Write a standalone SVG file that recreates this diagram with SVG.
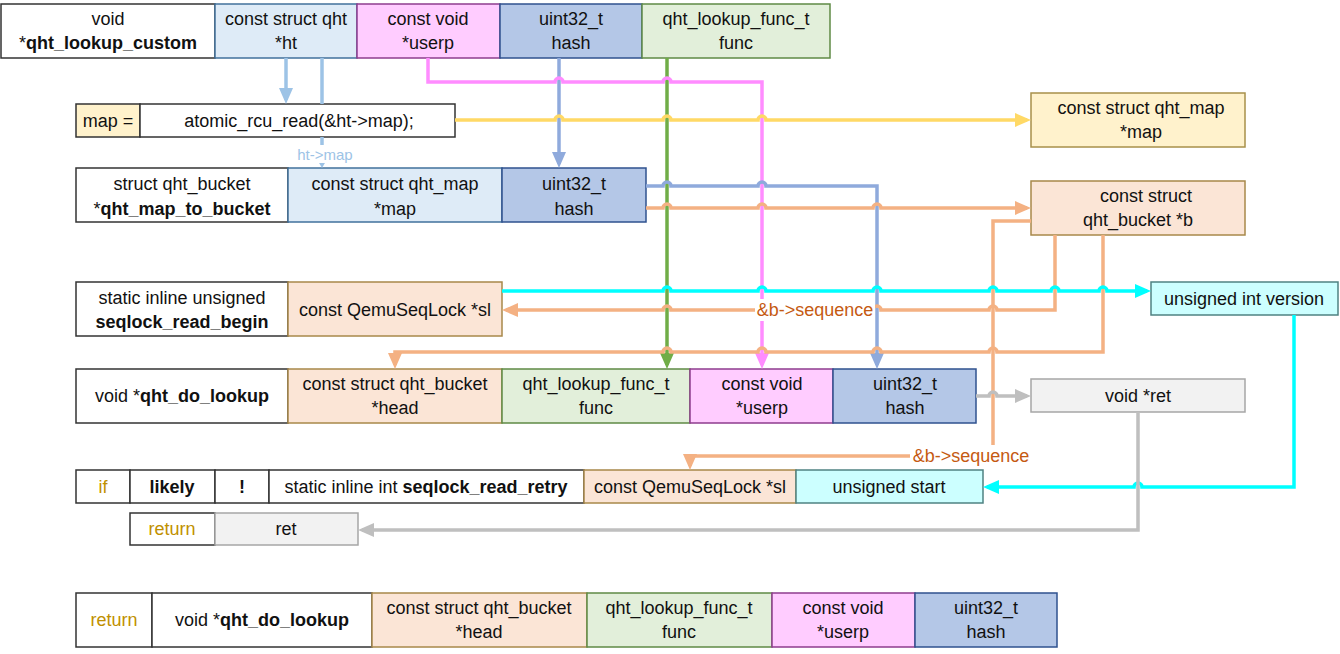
<svg xmlns="http://www.w3.org/2000/svg" width="1340" height="654" viewBox="0 0 1340 654">
<style>
text{font-family:"Liberation Sans",Arial,sans-serif;font-size:18px;fill:#111;text-anchor:middle}
.b{font-weight:bold}
.kw{fill:#BF9000}
.seq{fill:#C55A11}
.hm{fill:#9DC3E6}
rect{stroke-width:1.5}
.w{fill:#fff;stroke:#333}
.lb{fill:#DEEBF7;stroke:#41719C}
.pk{fill:#FFCCFF;stroke:#8E3C8E}
.bl{fill:#B4C7E7;stroke:#2F528F}
.gr{fill:#E2EFDA;stroke:#5F8A45}
.ye{fill:#FFF2CC;stroke:#A8904A}
.pe{fill:#FBE5D6;stroke:#A8884A}
.cy{fill:#CCFFFF;stroke:#4F8282}
.gy{fill:#F2F2F2;stroke:#A6A6A6}
.ln{fill:none;stroke-width:3.5}
</style>
<defs>
<marker id="a-lb" markerUnits="userSpaceOnUse" markerWidth="16" markerHeight="14" refX="12" refY="7" orient="auto"><path d="M0,0L16,7L0,14z" fill="#9DC3E6"/></marker>
<marker id="a-pk" markerUnits="userSpaceOnUse" markerWidth="16" markerHeight="14" refX="12" refY="7" orient="auto"><path d="M0,0L16,7L0,14z" fill="#FF8CFF"/></marker>
<marker id="a-bl" markerUnits="userSpaceOnUse" markerWidth="16" markerHeight="14" refX="12" refY="7" orient="auto"><path d="M0,0L16,7L0,14z" fill="#8FAADC"/></marker>
<marker id="a-gr" markerUnits="userSpaceOnUse" markerWidth="16" markerHeight="14" refX="12" refY="7" orient="auto"><path d="M0,0L16,7L0,14z" fill="#70AD47"/></marker>
<marker id="a-ye" markerUnits="userSpaceOnUse" markerWidth="16" markerHeight="14" refX="12" refY="7" orient="auto"><path d="M0,0L16,7L0,14z" fill="#FFD966"/></marker>
<marker id="a-or" markerUnits="userSpaceOnUse" markerWidth="16" markerHeight="14" refX="12" refY="7" orient="auto"><path d="M0,0L16,7L0,14z" fill="#F4B183"/></marker>
<marker id="a-cy" markerUnits="userSpaceOnUse" markerWidth="16" markerHeight="14" refX="12" refY="7" orient="auto"><path d="M0,0L16,7L0,14z" fill="#00FFFF"/></marker>
<marker id="a-gy" markerUnits="userSpaceOnUse" markerWidth="16" markerHeight="14" refX="12" refY="7" orient="auto"><path d="M0,0L16,7L0,14z" fill="#BFBFBF"/></marker>
</defs>
<rect width="1340" height="654" fill="#fff"/>

<!-- Row 1 -->
<g id="n-qht_lookup_custom"><rect class="w" x="1" y="4" width="214" height="54"/><text x="108" y="25">void</text><text x="108" y="49">*<tspan class="b">qht_lookup_custom</tspan></text></g>
<g id="n-ht"><rect class="lb" x="215" y="4" width="142" height="54"/><text x="286" y="25">const struct qht</text><text x="286" y="49">*ht</text></g>
<g id="n-userp1"><rect class="pk" x="357" y="4" width="143" height="54"/><text x="428" y="25">const void</text><text x="428" y="49">*userp</text></g>
<g id="n-hash1"><rect class="bl" x="500" y="4" width="142" height="54"/><text x="571" y="25">uint32_t</text><text x="571" y="49">hash</text></g>
<g id="n-func1"><rect class="gr" x="642" y="4" width="188" height="54"/><text x="736" y="25">qht_lookup_func_t</text><text x="736" y="49">func</text></g>

<!-- Row 2 -->
<g id="n-mapeq"><rect class="ye" x="76" y="104" width="64" height="33" style="stroke:#333"/><text x="108" y="127">map =</text></g>
<g id="n-atomic"><rect class="w" x="140" y="104" width="315" height="33"/><text x="299" y="127">atomic_rcu_read(&amp;ht-&gt;map);</text></g>
<g id="n-map-var"><rect class="ye" x="1031" y="93" width="214" height="54"/><text x="1141" y="114">const struct qht_map</text><text x="1141" y="138">*map</text></g>

<!-- Row 3 -->
<g id="n-map_to_bucket"><rect class="w" x="76" y="168" width="212" height="54"/><text x="182" y="190">struct qht_bucket</text><text x="182" y="215">*<tspan class="b">qht_map_to_bucket</tspan></text></g>
<g id="n-map-arg"><rect class="lb" x="288" y="168" width="214" height="54"/><text x="395" y="190">const struct qht_map</text><text x="395" y="215">*map</text></g>
<g id="n-hash2"><rect class="bl" x="502" y="168" width="144" height="54"/><text x="574" y="190">uint32_t</text><text x="574" y="215">hash</text></g>
<g id="n-b"><rect class="pe" x="1031" y="181" width="214" height="54"/><text x="1146" y="202">const struct</text><text x="1138" y="226">qht_bucket *b</text></g>

<!-- Row 4 -->
<g id="n-read_begin"><rect class="w" x="76" y="282" width="212" height="54"/><text x="182" y="304">static inline unsigned</text><text x="182" y="328" class="b">seqlock_read_begin</text></g>
<g id="n-sl1"><rect class="pe" x="288" y="282" width="214" height="54"/><text x="395" y="316">const QemuSeqLock *sl</text></g>
<g id="n-version"><rect class="cy" x="1151" y="282" width="187" height="33"/><text x="1244" y="305">unsigned int version</text></g>

<!-- Row 5 -->
<g id="n-do_lookup1"><rect class="w" x="76" y="369" width="212" height="54"/><text x="182" y="402">void *<tspan class="b">qht_do_lookup</tspan></text></g>
<g id="n-head1"><rect class="pe" x="288" y="369" width="214" height="54"/><text x="395" y="390">const struct qht_bucket</text><text x="395" y="414">*head</text></g>
<g id="n-func2"><rect class="gr" x="502" y="369" width="188" height="54"/><text x="596" y="390">qht_lookup_func_t</text><text x="596" y="414">func</text></g>
<g id="n-userp2"><rect class="pk" x="690" y="369" width="143" height="54"/><text x="762" y="390">const void</text><text x="762" y="414">*userp</text></g>
<g id="n-hash3"><rect class="bl" x="833" y="369" width="143" height="54"/><text x="905" y="390">uint32_t</text><text x="905" y="414">hash</text></g>
<g id="n-ret-var"><rect class="gy" x="1031" y="379" width="214" height="33"/><text x="1138" y="402">void *ret</text></g>

<!-- Row 6 -->
<g id="n-if"><rect class="w" x="76" y="470" width="54" height="33"/><text x="103" y="493" class="kw">if</text></g>
<g id="n-likely"><rect class="w" x="130" y="470" width="85" height="33"/><text x="172" y="493" class="b">likely</text></g>
<g id="n-not"><rect class="w" x="215" y="470" width="54" height="33"/><text x="242" y="493" class="b">!</text></g>
<g id="n-read_retry"><rect class="w" x="269" y="470" width="315" height="33"/><text x="426" y="493">static inline int <tspan class="b">seqlock_read_retry</tspan></text></g>
<g id="n-sl2"><rect class="pe" x="584" y="470" width="212" height="33"/><text x="690" y="493">const QemuSeqLock *sl</text></g>
<g id="n-start"><rect class="cy" x="796" y="470" width="187" height="33"/><text x="889" y="493">unsigned start</text></g>

<!-- Row 7 -->
<g id="n-return1"><rect class="w" x="130" y="513" width="85" height="32"/><text x="172" y="535" class="kw">return</text></g>
<g id="n-ret"><rect class="gy" x="215" y="513" width="143" height="32"/><text x="286" y="535">ret</text></g>

<!-- Row 8 -->
<g id="n-return2"><rect class="w" x="76" y="593" width="76" height="54"/><text x="114" y="626" class="kw">return</text></g>
<g id="n-do_lookup2"><rect class="w" x="152" y="593" width="220" height="54"/><text x="262" y="626">void *<tspan class="b">qht_do_lookup</tspan></text></g>
<g id="n-head2"><rect class="pe" x="372" y="593" width="215" height="54"/><text x="479" y="614">const struct qht_bucket</text><text x="479" y="638">*head</text></g>
<g id="n-func3"><rect class="gr" x="587" y="593" width="185" height="54"/><text x="679" y="614">qht_lookup_func_t</text><text x="679" y="638">func</text></g>
<g id="n-userp3"><rect class="pk" x="772" y="593" width="143" height="54"/><text x="843" y="614">const void</text><text x="843" y="638">*userp</text></g>
<g id="n-hash4"><rect class="bl" x="915" y="593" width="142" height="54"/><text x="986" y="614">uint32_t</text><text x="986" y="638">hash</text></g>

<!-- Connectors -->
<g id="connectors">
<path class="ln" stroke="#9DC3E6" d="M286,58V100" marker-end="url(#a-lb)"/>
<path class="ln" stroke="#9DC3E6" d="M322,58V104M322,137V150"/>
<path d="M318.5,162L325.5,162L322,168z" fill="#9DC3E6"/>
<path class="ln" stroke="#8FAADC" d="M559,58V164" marker-end="url(#a-bl)"/>
<path class="ln" stroke="#70AD47" d="M667,58V365" marker-end="url(#a-gr)"/>
<path class="ln" stroke="#FF8CFF" d="M428,58V82H555a4,4 0 0 1 8,0H663a4,4 0 0 1 8,0H762V365" marker-end="url(#a-pk)"/>
<path class="ln" stroke="#FFD966" d="M455,120H555a4,4 0 0 1 8,0H663a4,4 0 0 1 8,0H758a4,4 0 0 1 8,0H1027" marker-end="url(#a-ye)"/>
<path class="ln" stroke="#8FAADC" d="M646,186H663a4,4 0 0 1 8,0H758a4,4 0 0 1 8,0H877V365" marker-end="url(#a-bl)"/>
<path class="ln" stroke="#F4B183" d="M646,208H663a4,4 0 0 1 8,0H758a4,4 0 0 1 8,0H873a4,4 0 0 1 8,0H1027" marker-end="url(#a-or)"/>
<path class="ln" stroke="#F4B183" d="M1031,221H993V456H690V466" marker-end="url(#a-or)"/>
<path class="ln" stroke="#F4B183" d="M1055,235V310H997a4,4 0 0 0 -8,0H881a4,4 0 0 0 -8,0H766a4,4 0 0 0 -8,0H671a4,4 0 0 0 -8,0H506" marker-end="url(#a-or)"/>
<path class="ln" stroke="#F4B183" d="M1103,235V352H997a4,4 0 0 0 -8,0H881a4,4 0 0 0 -8,0H766a4,4 0 0 0 -8,0H671a4,4 0 0 0 -8,0H395V365" marker-end="url(#a-or)"/>
<path class="ln" stroke="#00FFFF" d="M502,291H663a4,4 0 0 1 8,0H758a4,4 0 0 1 8,0H873a4,4 0 0 1 8,0H989a4,4 0 0 1 8,0H1051a4,4 0 0 1 8,0H1099a4,4 0 0 1 8,0H1147" marker-end="url(#a-cy)"/>
<path class="ln" stroke="#00FFFF" d="M1294,315V487H1142a4,4 0 0 0 -8,0H987" marker-end="url(#a-cy)"/>
<path class="ln" stroke="#BFBFBF" d="M976,396H989a4,4 0 0 1 8,0H1027" marker-end="url(#a-gy)"/>
<path class="ln" stroke="#BFBFBF" d="M1138,412V530H362" marker-end="url(#a-gy)"/>
<rect x="294" y="145" width="62" height="18" fill="#fff" stroke="none"/>
<text x="325" y="160" class="hm" style="font-size:15px">ht-&gt;map</text>
<rect x="755" y="299" width="120" height="22" fill="#fff" stroke="none"/>
<text x="815" y="316" class="seq">&amp;b-&gt;sequence</text>
<rect x="910" y="445" width="122" height="22" fill="#fff" stroke="none"/>
<text x="971" y="462" class="seq">&amp;b-&gt;sequence</text>
</g>
</svg>
